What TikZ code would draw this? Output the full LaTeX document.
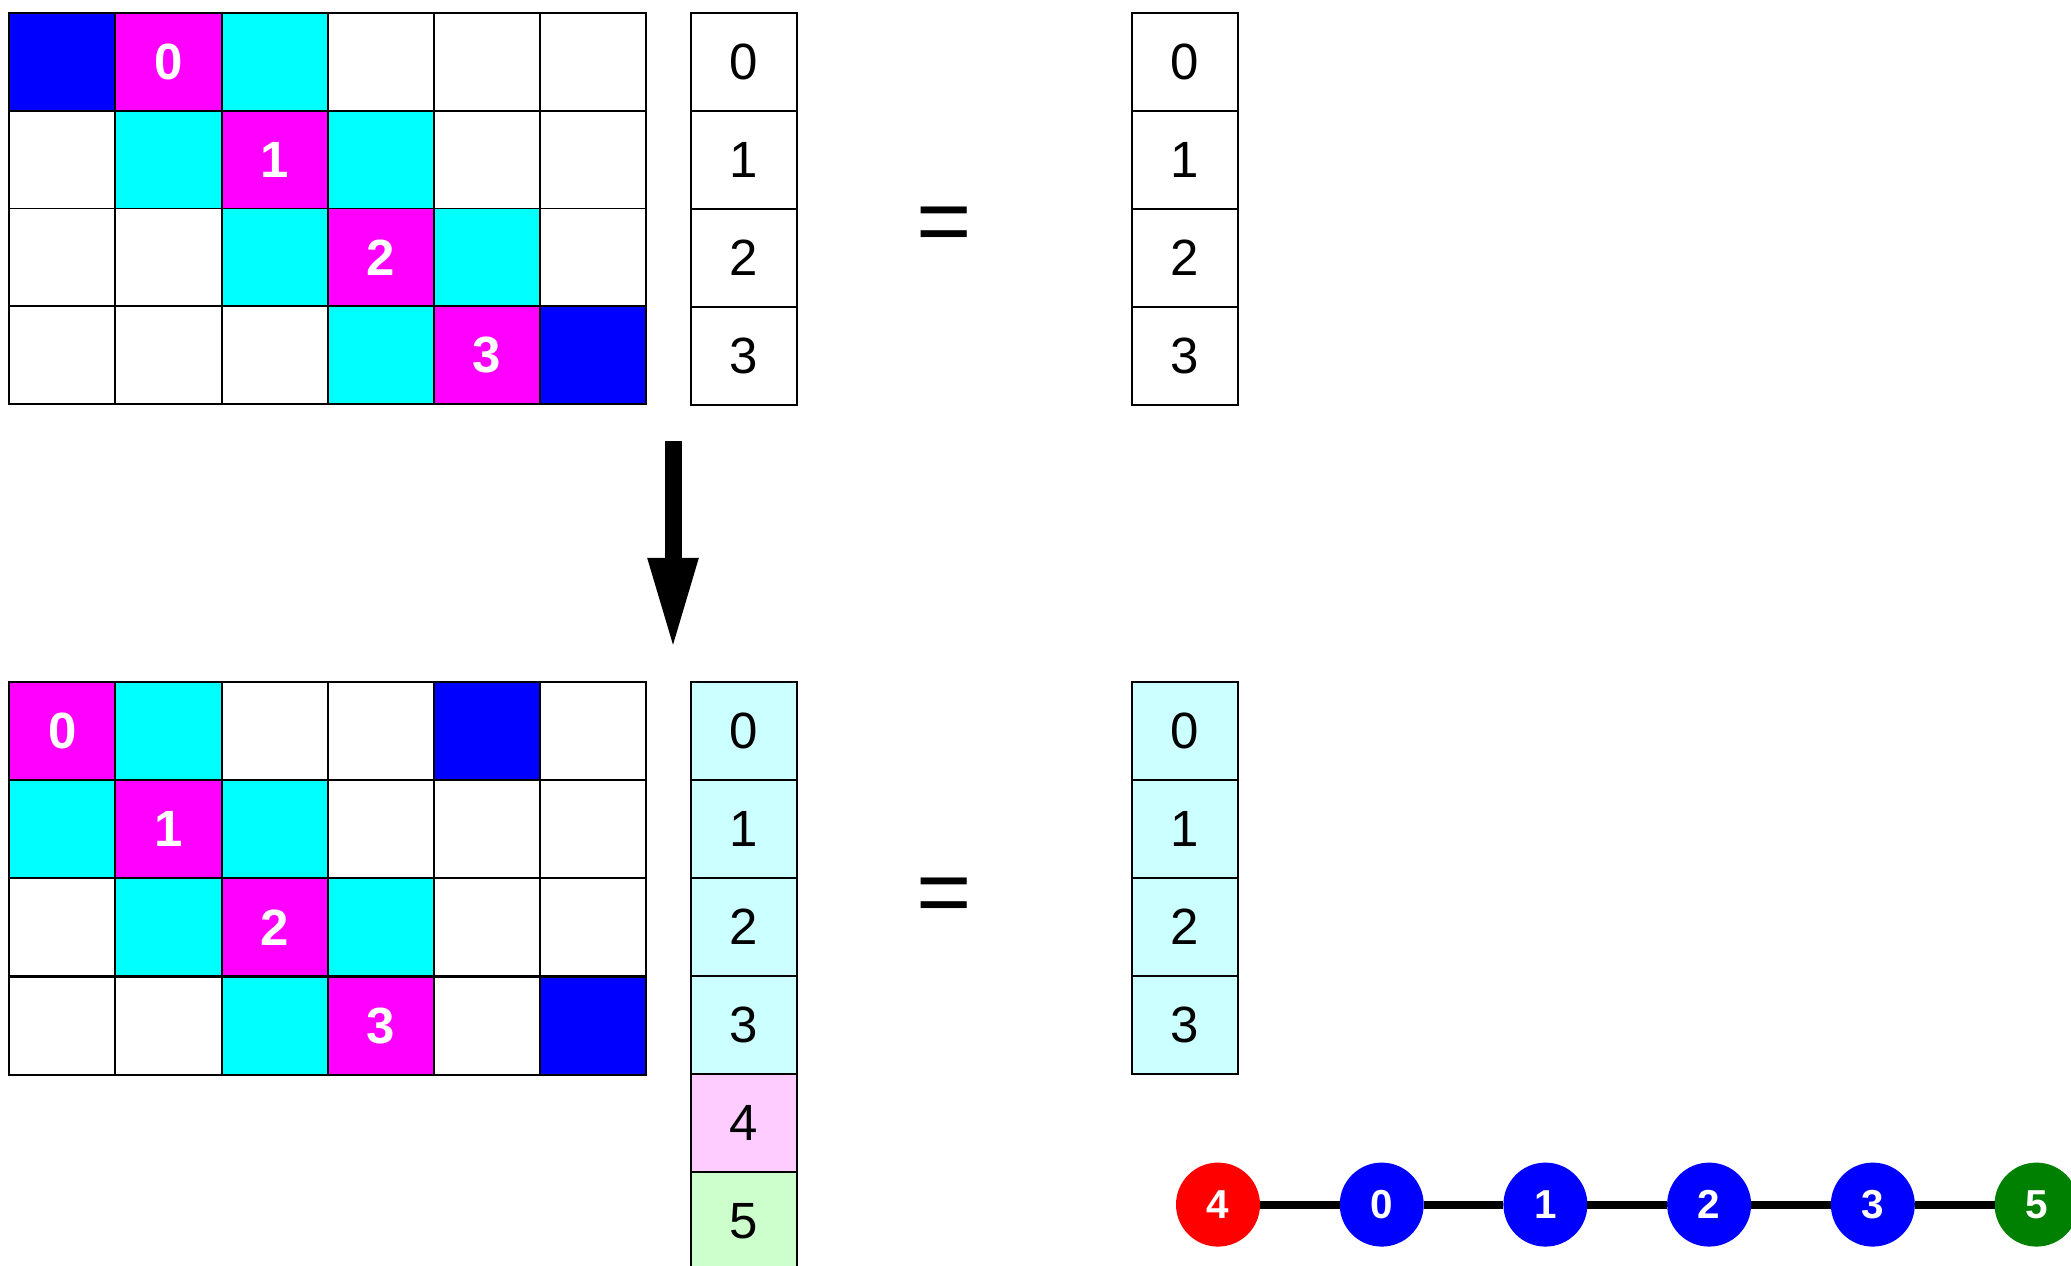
\documentclass[tikz,border=0pt]{standalone}
\usepackage{fontspec}
\setmainfont{Liberation Sans}
\usepackage{xcolor}
\definecolor{cellblue}{RGB}{0, 0, 255}
\definecolor{cellmag}{RGB}{255, 0, 255}
\definecolor{cellcyan}{RGB}{0, 255, 255}
\definecolor{vecinner}{RGB}{204, 255, 255}
\definecolor{vecext}{RGB}{255, 204, 255}
\definecolor{vecbound}{RGB}{204, 255, 204}
\definecolor{nodered}{RGB}{255, 0, 0}
\definecolor{nodegreen}{RGB}{0, 128, 0}
\usetikzlibrary{positioning, arrows.meta}

\begin{document}
\begin{tikzpicture}[
  x=1mm, y=-1mm,
  cell/.style={rectangle, draw=black, line width=0.55pt, minimum width=10.6mm, minimum height=9.8mm, inner sep=0pt, outer sep=0pt, anchor=north west, font=\fontsize{14.5}{17}\selectfont},
  diagnum/.style={text=white, font=\fontsize{14.5}{17}\selectfont\bfseries},
  eqsign/.style={font=\fontsize{27}{30}\selectfont},
  vertex/.style={circle, fill=#1, minimum size=8.4mm, inner sep=0pt, outer sep=0pt, text=white, font=\fontsize{11.5}{13}\selectfont\bfseries},
  link/.style={line width=0.8mm},
  bigarrow/.style={line width=1.7mm, -{Triangle[length=9.2mm, width=4.6mm]}}
]
  \useasboundingbox (0,0) rectangle (207.1,126.6);

  % Original matrix
  \foreach \r/\row in {0/{cellblue,cellmag,cellcyan,white,white,white}, 1/{white,cellcyan,cellmag,cellcyan,white,white}, 2/{white,white,cellcyan,cellmag,cellcyan,white}, 3/{white,white,white,cellcyan,cellmag,cellblue}}
    \foreach \fc [count=\c from 0] in \row
      \node[cell, fill=\fc] (A-\r-\c) at ({0.94+10.61*\c}, {1.27+9.79*\r}) {};
  \foreach \r [evaluate=\r as \c using int(\r+1)] in {0,...,3}
    \node[diagnum] at (A-\r-\c) {\r};

  % Original vectors
  \node[cell] (u-0) at (69.1,1.27) {0};
  \foreach \i [count=\j from 0] in {1,...,3}
    \node[cell, below=0pt of u-\j] (u-\i) {\i};
  \node[eqsign] (eqtop) at (94.4,23.0) {=};
  \node[cell] (f-0) at (113.2,1.27) {0};
  \foreach \i [count=\j from 0] in {1,...,3}
    \node[cell, below=0pt of f-\j] (f-\i) {\i};

  % Arrow
  \coordinate (arrtop) at (67.3,44.1);
  \coordinate (arrtip) at (67.3,65.0);
  \draw[bigarrow] (arrtop) -- (arrtip);

  % Renumbered matrix
  \foreach \r/\row in {0/{cellmag,cellcyan,white,white,cellblue,white}, 1/{cellcyan,cellmag,cellcyan,white,white,white}, 2/{white,cellcyan,cellmag,cellcyan,white,white}, 3/{white,white,cellcyan,cellmag,white,cellblue}}
    \foreach \fc [count=\c from 0] in \row
      \node[cell, fill=\fc] (B-\r-\c) at ({0.94+10.61*\c}, {68.2+9.82*\r}) {};
  \foreach \r in {0,...,3}
    \node[diagnum] at (B-\r-\r) {\r};

  % Renumbered vectors
  \node[cell, fill=vecinner] (x-0) at (69.1,68.2) {0};
  \foreach \i/\fc [count=\j from 0] in {1/vecinner, 2/vecinner, 3/vecinner, 4/vecext, 5/vecbound}
    \node[cell, fill=\fc, below=0pt of x-\j] (x-\i) {\i};
  \node[eqsign] (eqbot) at (94.4,90.1) {=};
  \node[cell, fill=vecinner] (b-0) at (113.2,68.2) {0};
  \foreach \i [count=\j from 0] in {1,...,3}
    \node[cell, fill=vecinner, below=0pt of b-\j] (b-\i) {\i};

  % Mesh
  \node[vertex=nodered] (n4) at (121.8,120.46) {4};
  \node[vertex=cellblue, right=7.97mm of n4] (n0) {0};
  \node[vertex=cellblue, right=7.97mm of n0] (n1) {1};
  \node[vertex=cellblue, right=7.97mm of n1] (n2) {2};
  \node[vertex=cellblue, right=7.97mm of n2] (n3) {3};
  \node[vertex=nodegreen, right=7.97mm of n3] (n5) {5};
  \draw[link] (n4) -- (n0) -- (n1) -- (n2) -- (n3) -- (n5);
\end{tikzpicture}
\end{document}
